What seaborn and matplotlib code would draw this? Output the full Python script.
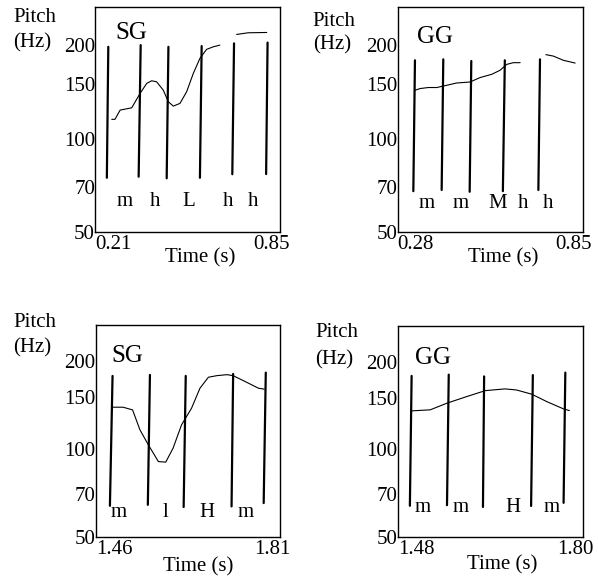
import numpy as np
import pandas as pd
import matplotlib
matplotlib.use("Agg")
import matplotlib.pyplot as plt
import matplotlib.transforms as mtransforms
from matplotlib.ticker import NullLocator
import seaborn as sns

# ---------------------------------------------------------------- data
PITCH_TICKS = [50, 70, 100, 150, 200]
PITCH_LIMITS = (50, 265)

# Panel A: SG, 0.21-0.85 s
A_NAME = "SG"
A_XLIM = (0.21, 0.85)
A_TIME = [0.268, 0.279, 0.297, 0.337, 0.366, 0.389, 0.406, 0.423, 0.446, 0.464,
          0.481, 0.504, 0.527, 0.550, 0.573, 0.596, 0.619, 0.642,
          0.700, 0.740, 0.804]
A_PITCH = [115.5, 115.5, 123.7, 125.8, 140.0, 150.8, 153.7, 152.6, 143.5, 131.5,
           127.4, 130.0, 141.7, 162.3, 181.5, 194.0, 197.7, 200.2,
           216.7, 219.4, 219.9]
A_SEG = [0] * 18 + [1] * 3
A_B_TTOP = [0.256, 0.368, 0.464, 0.579, 0.691, 0.807]
A_B_TBOT = [0.251, 0.361, 0.458, 0.573, 0.685, 0.802]
A_B_FTOP = [197.7, 200.2, 197.7, 198.8, 202.8, 204.0]
A_B_FBOT = [74.9, 75.5, 74.6, 74.9, 76.9, 77.0]
A_TONES = ["m", "h", "L", "h", "h"]
A_TONE_T = [0.314, 0.418, 0.533, 0.669, 0.758]
A_TONE_F = 62.7

# Panel B: GG, 0.28-0.85 s
B_NAME = "GG"
B_XLIM = (0.28, 0.85)
B_TIME = [0.333, 0.349, 0.374, 0.400, 0.431, 0.461, 0.502, 0.533, 0.569, 0.594,
          0.615, 0.635, 0.656,
          0.735, 0.758, 0.789, 0.825]
B_PITCH = [143.2, 145.0, 146.1, 146.1, 148.6, 151.1, 152.2, 157.3, 161.2, 166.0,
           173.5, 175.7, 175.7,
           186.5, 184.5, 178.8, 175.2]
B_SEG = [0] * 13 + [1] * 4
B_B_TTOP = [0.333, 0.420, 0.506, 0.609, 0.717]
B_B_TBOT = [0.328, 0.415, 0.501, 0.603, 0.712]
B_B_FTOP = [178.8, 180.1, 177.9, 178.8, 180.1]
B_B_FBOT = [67.7, 68.3, 67.4, 67.7, 68.3]
B_TONES = ["m", "m", "M", "h", "h"]
B_TONE_T = [0.369, 0.474, 0.587, 0.666, 0.743]
B_TONE_F = 61.8

# Panel C: SG, 1.46-1.81 s
C_NAME = "SG"
C_XLIM = (1.46, 1.81)
C_TIME = [1.490, 1.512, 1.530, 1.544, 1.560, 1.579, 1.593, 1.607, 1.623, 1.642,
          1.658, 1.674, 1.690, 1.709, 1.721, 1.744, 1.769, 1.780]
C_PITCH = [138.8, 138.8, 135.9, 116.2, 103.2, 90.5, 90.1, 100.6, 120.8, 137.7,
           161.2, 175.7, 177.9, 179.3, 177.9, 169.8, 161.2, 160.0]
C_SEG = [0] * 18
C_B_TTOP = [1.492, 1.563, 1.631, 1.721, 1.783]
C_B_TBOT = [1.487, 1.559, 1.627, 1.718, 1.779]
C_B_FTOP = [177.5, 178.9, 177.5, 180.3, 182.2]
C_B_FBOT = [63.9, 64.4, 63.3, 63.6, 65.3]
C_TONES = ["m", "l", "H", "m"]
C_TONE_T = [1.503, 1.593, 1.672, 1.745]
C_TONE_F = 60.4

# Panel D: GG, 1.48-1.80 s
D_NAME = "GG"
D_XLIM = (1.48, 1.80)
D_TIME = [1.504, 1.536, 1.565, 1.599, 1.631, 1.665, 1.685, 1.711, 1.737, 1.766, 1.776]
D_PITCH = [135.5, 136.6, 144.0, 151.7, 159.0, 161.2, 159.8, 154.6, 145.8, 137.6, 135.8]
D_SEG = [0] * 11
D_B_TTOP = [1.504, 1.568, 1.629, 1.713, 1.769]
D_B_TBOT = [1.501, 1.565, 1.627, 1.710, 1.766]
D_B_FTOP = [178.6, 180.4, 177.9, 179.8, 183.3]
D_B_FBOT = [64.0, 64.3, 63.4, 63.9, 65.5]
D_TONES = ["m", "m", "H", "m"]
D_TONE_T = [1.523, 1.589, 1.679, 1.746]
D_TONE_F = 62.9

# ---------------------------------------------------------------- layout
W, H = 598, 576
sns.set_theme(style="white")
plt.rcParams["font.family"] = ["Liberation Serif", "DejaVu Serif"]
plt.rcParams["axes.edgecolor"] = "black"
plt.rcParams["axes.linewidth"] = 1.0

fig = plt.figure(figsize=(W / 100, H / 100), dpi=100)
fig.patch.set_facecolor("white")

FS = 15

panels = [
    dict(name=A_NAME, xlim=A_XLIM, t=A_TIME, f=A_PITCH, seg=A_SEG,
         btt=A_B_TTOP, btb=A_B_TBOT, bft=A_B_FTOP, bfb=A_B_FBOT,
         tones=A_TONES, tone_t=A_TONE_T, tone_f=A_TONE_F,
         box=(95, 7.3, 280, 232.3), title=(115, 33), pitch=(13, 18), hz=(13, 43),
         xlab=(200, 258), rshift=-8),
    dict(name=B_NAME, xlim=B_XLIM, t=B_TIME, f=B_PITCH, seg=B_SEG,
         btt=B_B_TTOP, btb=B_B_TBOT, bft=B_B_FTOP, bfb=B_B_FBOT,
         tones=B_TONES, tone_t=B_TONE_T, tone_f=B_TONE_F,
         box=(397.7, 7.3, 583.3, 232), title=(416.7, 36.7), pitch=(312.7, 21),
         hz=(312.7, 45), xlab=(503, 258), rshift=-10),
    dict(name=C_NAME, xlim=C_XLIM, t=C_TIME, f=C_PITCH, seg=C_SEG,
         btt=C_B_TTOP, btb=C_B_TBOT, bft=C_B_FTOP, bfb=C_B_FBOT,
         tones=C_TONES, tone_t=C_TONE_T, tone_f=C_TONE_F,
         box=(95.7, 325, 280, 537), title=(111.7, 356), pitch=(13.3, 322.3),
         hz=(13.3, 348.3), xlab=(198, 567), rshift=-8),
    dict(name=D_NAME, xlim=D_XLIM, t=D_TIME, f=D_PITCH, seg=D_SEG,
         btt=D_B_TTOP, btb=D_B_TBOT, bft=D_B_FTOP, bfb=D_B_FBOT,
         tones=D_TONES, tone_t=D_TONE_T, tone_f=D_TONE_F,
         box=(397.7, 326, 583.3, 537), title=(415, 358.3), pitch=(315, 332.3),
         hz=(315, 360), xlab=(501.7, 565), rshift=-8),
]


def fig_xy(px, py):
    return px / W, 1 - py / H


for p in panels:
    left, top, right, bottom = p["box"]
    ax = fig.add_axes([left / W, 1 - bottom / H, (right - left) / W, (bottom - top) / H])
    ax.set_facecolor("white")

    contour = pd.DataFrame({"time": p["t"], "pitch": p["f"], "seg": p["seg"]})
    sns.lineplot(data=contour, x="time", y="pitch", units="seg", estimator=None,
                 sort=False, color="black", linewidth=0.8, ax=ax)

    n = len(p["btt"])
    bounds = pd.DataFrame({
        "time": np.column_stack([p["btt"], p["btb"]]).ravel(),
        "pitch": np.column_stack([p["bft"], p["bfb"]]).ravel(),
        "id": np.repeat(np.arange(n), 2),
    })
    sns.lineplot(data=bounds, x="time", y="pitch", units="id", estimator=None,
                 sort=False, color="black", linewidth=1.6, ax=ax)

    for lab, tt in zip(p["tones"], p["tone_t"]):
        ax.text(tt, p["tone_f"], lab, ha="center", va="center", fontsize=FS,
                color="black")

    ax.set_yscale("log")
    ax.set_ylim(*PITCH_LIMITS)
    ax.set_xlim(*p["xlim"])
    ax.set_yticks(PITCH_TICKS)
    ax.set_yticklabels([str(v) for v in PITCH_TICKS])
    ax.yaxis.set_minor_locator(NullLocator())
    ax.set_xticks(list(p["xlim"]))
    ax.set_xticklabels([f"{v:.2f}" for v in p["xlim"]])
    ax.tick_params(axis="y", length=0, pad=0, labelsize=FS, labelcolor="black")
    ax.tick_params(axis="x", length=0, pad=2, labelsize=FS, labelcolor="black")
    xl = ax.get_xticklabels()
    xl[0].set_ha("left")
    xl[1].set_ha("center")
    xl[1].set_transform(xl[1].get_transform() +
                        mtransforms.ScaledTranslation(p["rshift"] / 100, 0,
                                                      fig.dpi_scale_trans))
    for s in ax.spines.values():
        s.set_visible(True)
        s.set_color("black")
        s.set_linewidth(1.0)

    ax.set_ylabel("")
    ax.set_xlabel("Time (s)", fontsize=FS, color="black")
    ax.xaxis.label.set_va("center")
    lx, ly = p["xlab"]
    ax.xaxis.set_label_coords((lx - left) / (right - left),
                              (bottom - ly) / (bottom - top))

    tx, ty = p["title"]
    ax.text((tx - left) / (right - left), (bottom - ty) / (bottom - top), p["name"],
            transform=ax.transAxes, ha="left", va="center", fontsize=18,
            color="black")

    fig.text(*fig_xy(*p["pitch"]), "Pitch", ha="left", va="center", fontsize=FS,
             color="black")
    fig.text(*fig_xy(*p["hz"]), "(Hz)", ha="left", va="center", fontsize=FS,
             color="black")

fig.savefig("out.png", dpi=100, facecolor="white")
